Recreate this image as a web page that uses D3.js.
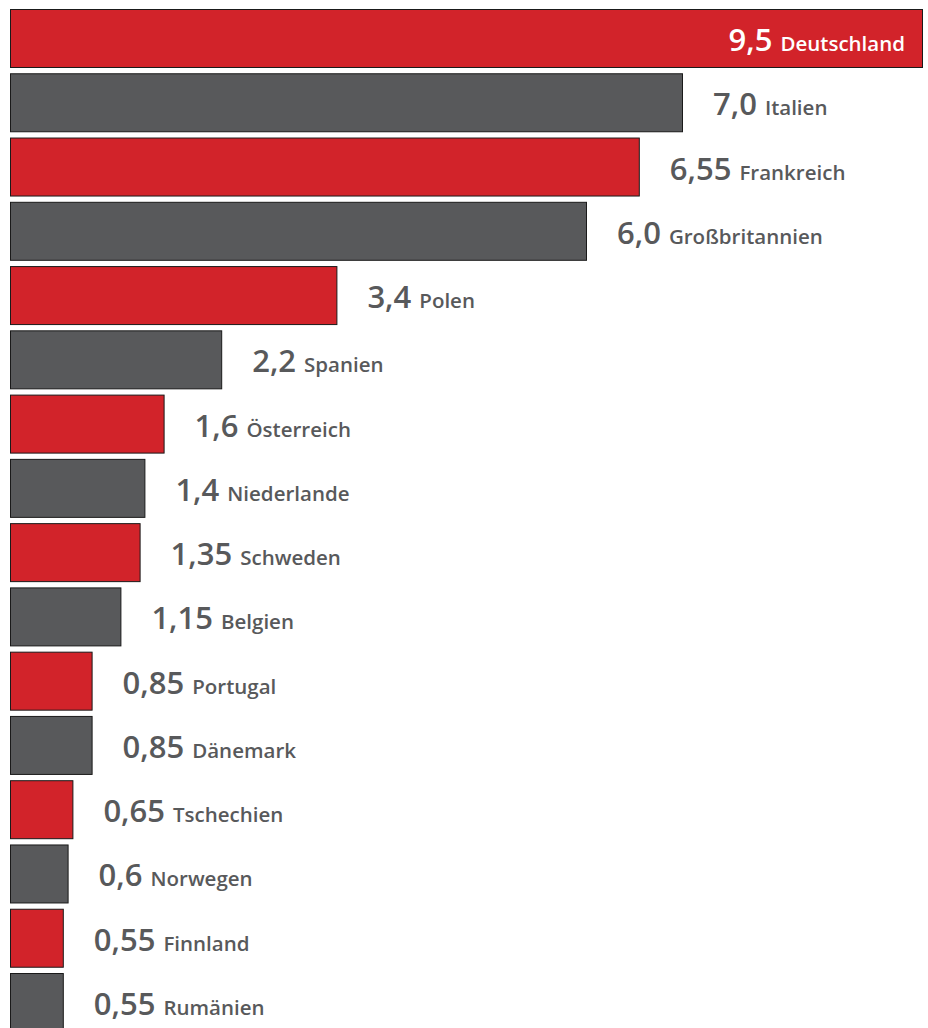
<!DOCTYPE html>
<html>
<head>
<meta charset="utf-8">
<script src="https://cdn.jsdelivr.net/npm/d3@7"></script>
<style>
  html, body { margin: 0; padding: 0; background: #fff; }
  svg { display: block; }
</style>
</head>
<body>
<svg id="chart" width="928" height="1028"></svg>
<script>
// Country names and values (decimal comma labels)
const countries = ["Deutschland", "Italien", "Frankreich", "Großbritannien", "Polen", "Spanien",
  "Österreich", "Niederlande", "Schweden", "Belgien", "Portugal", "Dänemark",
  "Tschechien", "Norwegen", "Finnland", "Rumänien"];
const values = [9.5, 7.0, 6.55, 6.0, 3.4, 2.2, 1.6, 1.4, 1.35, 1.15, 0.85, 0.85, 0.65, 0.6, 0.55, 0.55];
const valueLabels = ["9,5", "7,0", "6,55", "6,0", "3,4", "2,2", "1,6", "1,4", "1,35", "1,15",
  "0,85", "0,85", "0,65", "0,6", "0,55", "0,55"];
const colors = ["#d2232a", "#58595b"];

const data = countries.map((c, i) => ({ name: c, value: values[i], label: valueLabels[i] }));

const svg = d3.select("#chart");

const x = d3.scaleLinear().domain([0, 9.5]).range([10, 922]);
const y = d3.scaleBand().domain(countries).range([9, 1031]).paddingInner(0.0976).paddingOuter(0);

svg.selectAll("rect.bar")
  .data(data)
  .join("rect")
  .attr("class", "bar")
  .attr("x", x(0) + 0.5)
  .attr("y", d => y(d.name) + 0.5)
  .attr("width", d => x(d.value) - x(0))
  .attr("height", y.bandwidth())
  .attr("fill", (d, i) => colors[i % 2])
  .attr("stroke", "#1a1a1a")
  .attr("stroke-width", 1);

const labels = svg.selectAll("text.lbl")
  .data(data)
  .join("text")
  .attr("class", "lbl")
  .attr("font-family", "'Open Sans', sans-serif")
  .attr("font-weight", 600)
  .attr("y", d => y(d.name) + y.bandwidth() / 2 + 13)
  .attr("x", (d, i) => i === 0 ? x(d.value) - 17 : x(d.value) + 31)
  .attr("text-anchor", (d, i) => i === 0 ? "end" : "start")
  .attr("fill", (d, i) => i === 0 ? "#ffffff" : "#58595b");

labels.append("tspan")
  .attr("font-size", 31)
  .text(d => d.label);
labels.append("tspan")
  .attr("font-size", 20.5)
  .attr("dx", 8)
  .text(d => d.name);
</script>
</body>
</html>
